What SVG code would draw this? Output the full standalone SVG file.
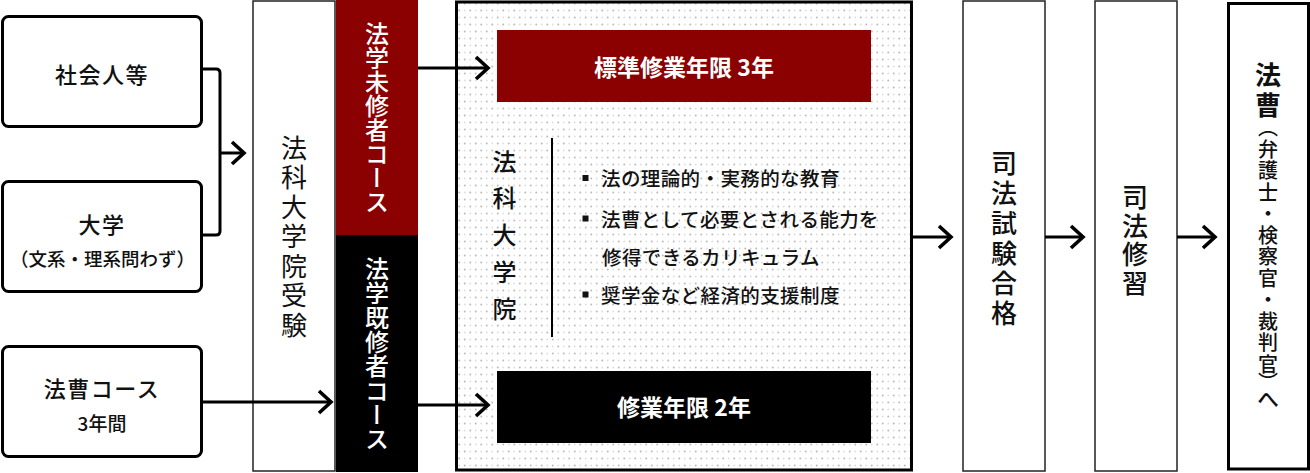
<svg xmlns="http://www.w3.org/2000/svg" width="1310" height="473" viewBox="0 0 1310 473">
<style>
text { font-family: "Noto Sans CJK JP", "Noto Sans", sans-serif; fill: #111; }
.box { fill: #fff; stroke: #000; stroke-width: 3; }
.bar { fill: #fff; stroke: #222; stroke-width: 1.5; }
.lbl { font-size: 22px; font-weight: 500; text-anchor: middle; dominant-baseline: central; letter-spacing: 1.5px; }
.vt { writing-mode: vertical-rl; }
.wt { fill: #fff; }
.ctr { text-anchor: middle; dominant-baseline: central; }
.conn { fill: none; stroke: #000; stroke-width: 3; }
.arr { marker-end: url(#chev); }
.bul { font-size: 19.5px; font-weight: 500; dominant-baseline: central; letter-spacing: 0.4px; }
</style>
<defs>
<pattern id="dots" width="11" height="14" patternUnits="userSpaceOnUse">
<circle cx="2.75" cy="3.5" r="1" fill="#b9b9b9"/>
<circle cx="8.25" cy="10.5" r="1" fill="#b9b9b9"/>
<circle cx="8.25" cy="3.5" r="0.9" fill="#dedede"/>
<circle cx="2.75" cy="10.5" r="0.9" fill="#dedede"/>
</pattern>
<marker id="chev" markerUnits="userSpaceOnUse" markerWidth="30" markerHeight="30" viewBox="-15 -15 30 30" refX="0" refY="0" orient="auto" overflow="visible">
<path d="M -12 -11 L 0 0 L -12 11" fill="none" stroke="#000" stroke-width="3.6"/>
</marker>
</defs>

<g id="n-shakaijin">
<rect class="box" x="2.5" y="16.5" width="199" height="110" rx="6"/>
<text class="lbl" x="102" y="73">社会人等</text>
</g>
<g id="n-daigaku">
<rect class="box" x="2.5" y="181.5" width="199" height="110" rx="6"/>
<text class="lbl" x="102" y="223">大学</text>
<text class="lbl" x="102.5" y="258" style="font-size:18.5px;letter-spacing:0">（文系・理系問わず）</text>
</g>
<g id="n-hoso-course">
<rect class="box" x="2.5" y="346.5" width="199" height="110" rx="6"/>
<text class="lbl" x="102" y="387">法曹コース</text>
<text class="lbl" x="102" y="422" style="font-size:19px;letter-spacing:0">3年間</text>
</g>

<g id="n-juken">
<rect class="bar" x="253" y="1" width="82" height="470"/>
<text class="vt" x="294" y="135" font-size="26" letter-spacing="3.5">法科大学院受験</text>
</g>
<g id="n-mishu">
<rect x="336" y="0" width="82" height="235" fill="#8b0000"/>
<text class="vt wt" x="377" y="22" font-size="24" font-weight="500">法学未修者コース</text>
</g>
<g id="n-kishu">
<rect x="336" y="235" width="82" height="237" fill="#000"/>
<text class="vt wt" x="377" y="257" font-size="24" font-weight="500" letter-spacing="0.3">法学既修者コース</text>
</g>

<g id="n-lawschool">
<rect x="456.5" y="2" width="455" height="468" fill="#fff"/>
<rect x="456.5" y="2" width="455" height="468" fill="url(#dots)"/>
<rect x="456.5" y="2" width="455" height="468" fill="none" stroke="#000" stroke-width="3"/>
<text class="vt" x="504.5" y="149.5" font-size="24" font-weight="500" letter-spacing="12.8">法科大学院</text>
<line x1="552" y1="138" x2="552" y2="337" stroke="#000" stroke-width="2"/>
<rect x="582.5" y="175" width="6" height="6" fill="#111"/>
<rect x="582.5" y="215.5" width="6" height="6" fill="#111"/>
<rect x="582.5" y="291.5" width="6" height="6" fill="#111"/>
<text class="bul" x="601" y="177.5">法の理論的・実務的な教育</text>
<text class="bul" x="601" y="218">法曹として必要とされる能力を</text>
<text class="bul" x="602" y="256.5">修得できるカリキュラム</text>
<text class="bul" x="601" y="294">奨学金など経済的支援制度</text>
</g>
<g id="n-std3">
<rect x="497" y="30" width="374" height="72" fill="#8b0000"/>
<text class="ctr wt" x="684" y="66" font-size="23" font-weight="700">標準修業年限 3年</text>
</g>
<g id="n-2y">
<rect x="497" y="371" width="374" height="72" fill="#000"/>
<text class="ctr wt" x="684" y="406" font-size="23" font-weight="700">修業年限 2年</text>
</g>

<g id="n-shiken">
<rect class="bar" x="963" y="1" width="82" height="470"/>
<text class="vt" x="1004" y="150" font-size="26" font-weight="500" letter-spacing="4">司法試験合格</text>
</g>
<g id="n-shushu">
<rect class="bar" x="1095" y="1" width="82" height="470"/>
<text class="vt" x="1135" y="184" font-size="26" font-weight="500" letter-spacing="2.7">司法修習</text>
</g>
<g id="n-hoso">
<rect x="1228.5" y="3.5" width="80" height="465.5" fill="#fff" stroke="#000" stroke-width="3"/>
<text class="vt" x="1268"><tspan y="62" font-size="26" font-weight="700" letter-spacing="4">法曹</tspan><tspan y="117.5" font-size="20" font-weight="500" letter-spacing="1.5">（弁護士・検察官・裁判官</tspan><tspan y="372" font-size="20" font-weight="500">）</tspan><tspan y="388" font-size="22" font-weight="500">へ</tspan></text>
</g>

<g id="connectors">
<path class="conn" d="M 203 69 H 216 Q 220 69 220 73 V 231 Q 220 235 216 235 H 203"/>
<path class="conn arr" d="M 220 153 H 244"/>
<path class="conn arr" d="M 203 402 H 331"/>
<path class="conn arr" d="M 418 68 H 488"/>
<path class="conn arr" d="M 418 405 H 488"/>
<path class="conn arr" d="M 913 237 H 951"/>
<path class="conn arr" d="M 1045 237 H 1083"/>
<path class="conn arr" d="M 1177 237 H 1215"/>
</g>
</svg>
